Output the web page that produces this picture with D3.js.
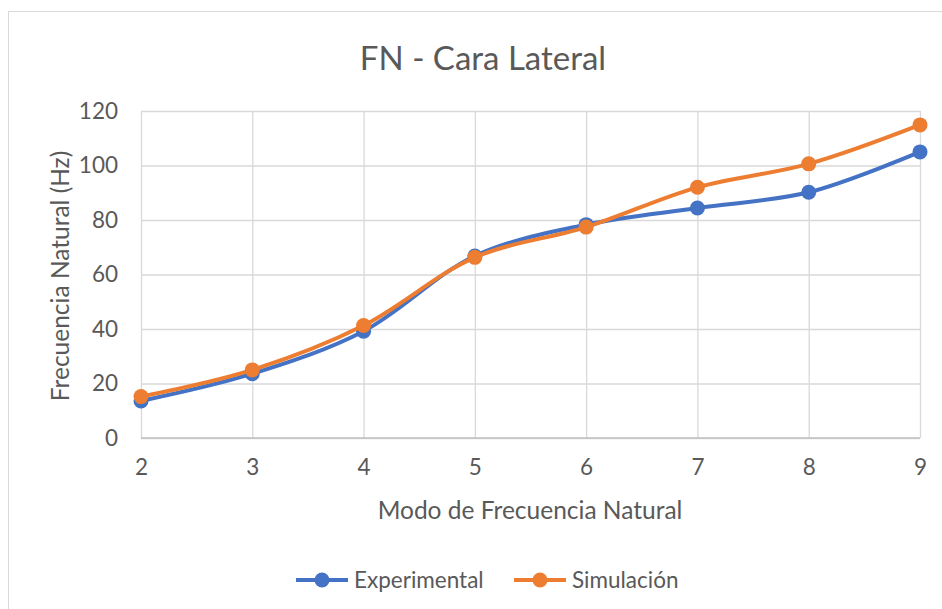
<!DOCTYPE html>
<html>
<head>
<meta charset="utf-8">
<script src="https://cdn.jsdelivr.net/npm/d3@7"></script>
<style>
  html, body { margin: 0; padding: 0; background: #fff; }
  svg { display: block; }
  text { font-family: Lato, "Open Sans", sans-serif; fill: #595959; }
</style>
</head>
<body>
<svg id="chart" width="942" height="609"></svg>
<script>
// Natural-frequency modes and measured / simulated frequencies (Hz)
const modes = [2, 3, 4, 5, 6, 7, 8, 9];
const experimental = [13.6, 23.6, 39.2, 66.8, 78.3, 84.4, 90.2, 105.0];
const simulacion = [15.2, 25.0, 41.3, 66.3, 77.4, 92.0, 100.6, 114.9];
const yTicks = [0, 20, 40, 60, 80, 100, 120];

const series = [
  { name: "Experimental", values: experimental, color: "#4472C4" },
  { name: "Simulación", values: simulacion, color: "#ED7D31" }
];

const svg = d3.select("#chart");
const W = 942, H = 609;
const plot = { left: 141, right: 920, top: 111, bottom: 438 };

// chart frame
svg.append("rect")
  .attr("x", 8.5).attr("y", 11.5)
  .attr("width", W).attr("height", H)
  .attr("fill", "#fff").attr("stroke", "#d9d9d9").attr("stroke-width", 1);

const x = d3.scaleLinear().domain([2, 9]).range([plot.left, plot.right]);
const y = d3.scaleLinear().domain([0, 120]).range([plot.bottom, plot.top]);

// gridlines
svg.append("g")
  .attr("transform", `translate(${plot.left},0)`)
  .call(d3.axisLeft(y).tickValues(yTicks).tickSize(-(plot.right - plot.left)).tickFormat(""))
  .call(g => g.select(".domain").remove())
  .call(g => g.selectAll("line").attr("stroke", "#d9d9d9").attr("stroke-width", 1.3));

svg.append("g")
  .attr("transform", `translate(0,${plot.bottom})`)
  .call(d3.axisBottom(x).tickValues(modes).tickSize(-(plot.bottom - plot.top)).tickFormat(""))
  .call(g => g.select(".domain").remove())
  .call(g => g.selectAll("line").attr("stroke", "#d9d9d9").attr("stroke-width", 1.3));

// bottom axis line
svg.append("line")
  .attr("x1", plot.left).attr("x2", plot.right)
  .attr("y1", plot.bottom).attr("y2", plot.bottom)
  .attr("stroke", "#bfbfbf").attr("stroke-width", 1.3);

// tick labels
const yAxis = svg.append("g")
  .attr("transform", `translate(${plot.left},0)`)
  .call(d3.axisLeft(y).tickValues(yTicks).tickSize(0).tickPadding(23));
yAxis.select(".domain").remove();
yAxis.selectAll("text").attr("font-size", 22.5).attr("fill", "#595959")
  .style("font-family", "Lato, sans-serif");

const xAxis = svg.append("g")
  .attr("transform", `translate(0,${plot.bottom})`)
  .call(d3.axisBottom(x).tickValues(modes).tickSize(0).tickPadding(21).tickFormat(d3.format("d")));
xAxis.select(".domain").remove();
xAxis.selectAll("text").attr("font-size", 22.5).attr("fill", "#595959")
  .style("font-family", "Lato, sans-serif");

// title and axis titles
svg.append("text")
  .attr("x", 483).attr("y", 70)
  .attr("text-anchor", "middle").attr("font-size", 33)
  .text("FN - Cara Lateral");

svg.append("text")
  .attr("x", 530).attr("y", 519)
  .attr("text-anchor", "middle").attr("font-size", 24.5)
  .text("Modo de Frecuencia Natural");

svg.append("text")
  .attr("transform", "translate(69,276) rotate(-90)")
  .attr("text-anchor", "middle").attr("font-size", 24.5)
  .text("Frecuencia Natural (Hz)");

// smoothed series lines with markers
const line = d3.line()
  .x((d, i) => x(modes[i]))
  .y(d => y(d))
  .curve(d3.curveCatmullRom.alpha(0.5));

series.forEach(s => {
  const g = svg.append("g");
  g.append("path")
    .attr("d", line(s.values))
    .attr("fill", "none")
    .attr("stroke", s.color)
    .attr("stroke-width", 4)
    .attr("stroke-linecap", "round");
  g.selectAll("circle")
    .data(s.values)
    .join("circle")
    .attr("cx", (d, i) => x(modes[i]))
    .attr("cy", d => y(d))
    .attr("r", 7.5)
    .attr("fill", s.color);
});

// legend
const legendItems = [
  { s: series[0], x0: 296 },
  { s: series[1], x0: 514 }
];
legendItems.forEach(({ s, x0 }) => {
  const g = svg.append("g").attr("transform", `translate(${x0},580)`);
  g.append("line").attr("x1", 0).attr("x2", 52).attr("y1", 0).attr("y2", 0)
    .attr("stroke", s.color).attr("stroke-width", 4);
  g.append("circle").attr("cx", 26).attr("cy", 0).attr("r", 7.5).attr("fill", s.color);
  g.append("text").attr("x", 58).attr("y", 0).attr("dy", "0.35em")
    .attr("font-size", 22.5).text(s.name);
});
</script>
</body>
</html>
